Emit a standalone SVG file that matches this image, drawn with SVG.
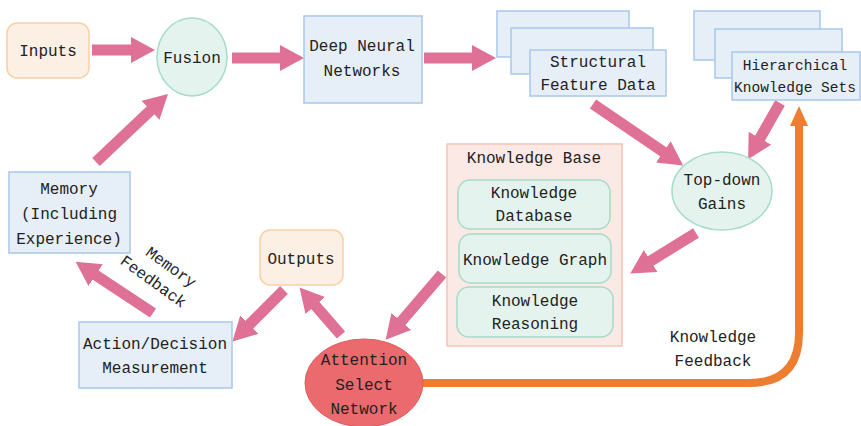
<svg xmlns="http://www.w3.org/2000/svg" width="861" height="426" viewBox="0 0 861 426">
<defs>
<style>
text{font-family:"Liberation Mono","DejaVu Sans Mono",monospace;font-size:16px;fill:#222;text-anchor:middle}
.small{font-size:14.5px}
.blue{fill:#E6EEF8;stroke:#A9C8EA;stroke-width:1.5}
.orange{fill:#FCEFE4;stroke:#F9CFA6;stroke-width:1.5}
.green{fill:#E5F3EE;stroke:#A6DCC8;stroke-width:1.5}
.kb{fill:#FBE9E6;stroke:#F6C4B6;stroke-width:1.5}
.pa{stroke:#DF7096;stroke-width:11;fill:none;marker-end:url(#ph)}
</style>
<marker id="ph" markerUnits="userSpaceOnUse" markerWidth="24" markerHeight="26" viewBox="0 0 24 26" refX="2" refY="13" orient="auto">
<path d="M0,0 L24,13 L0,26 Z" fill="#DF7096"/>
</marker>
<marker id="oh" markerUnits="userSpaceOnUse" markerWidth="20" markerHeight="18" viewBox="0 0 20 18" refX="2" refY="9" orient="auto">
<path d="M0,0 L20,9 L0,18 Z" fill="#ED7D31"/>
</marker>
</defs>
<rect width="861" height="426" fill="#fff"/>
<g id="connectors">
<line class="pa" x1="92" y1="50" x2="133" y2="50"/>
<line class="pa" x1="232" y1="58" x2="282" y2="58"/>
<line class="pa" x1="424" y1="58" x2="474" y2="58"/>
<line class="pa" x1="593" y1="104" x2="665" y2="153"/>
<line class="pa" x1="780" y1="103" x2="759" y2="140"/>
<line class="pa" x1="696" y1="233" x2="649" y2="262"/>
<line class="pa" x1="96" y1="162" x2="152" y2="109"/>
<line class="pa" x1="153" y1="313" x2="94" y2="274"/>
<line class="pa" x1="284" y1="290" x2="248" y2="326"/>
<line class="pa" x1="341" y1="335" x2="314" y2="304"/>
<line class="pa" x1="442" y1="274" x2="400" y2="323"/>
<path d="M422,383 H749 Q799,383 799,333 V124" fill="none" stroke="#ED7D31" stroke-width="8" marker-end="url(#oh)"/>
</g>
<g id="inputs"><rect class="orange" x="7" y="23" width="82" height="55" rx="10"/><text x="48" y="56">Inputs</text></g>
<g id="fusion"><ellipse class="green" cx="192" cy="57" rx="35" ry="39"/><text x="192" y="63">Fusion</text></g>
<g id="dnn"><rect class="blue" x="304" y="16" width="118" height="87"/><text x="362" y="51">Deep Neural</text><text x="362" y="76">Networks</text></g>
<g id="structural">
<rect class="blue" x="497" y="11" width="132" height="46"/>
<rect class="blue" x="511" y="28" width="142" height="46"/>
<rect class="blue" x="530" y="50" width="136" height="46"/>
<text x="598" y="67">Structural</text><text x="598" y="90">Feature Data</text>
</g>
<g id="hierarchical">
<rect class="blue" x="694" y="11" width="126" height="49"/>
<rect class="blue" x="715" y="29" width="127" height="49"/>
<rect class="blue" x="732" y="52" width="128" height="48"/>
<text class="small" x="795" y="70">Hierarchical</text><text class="small" x="795" y="92">Knowledge Sets</text>
</g>
<g id="topdown"><ellipse class="green" cx="722" cy="191" rx="50" ry="39"/><text x="722" y="185">Top-down</text><text x="722" y="209">Gains</text></g>
<g id="knowledge-base">
<rect class="kb" x="447" y="144" width="175" height="202"/>
<text x="534" y="163">Knowledge Base</text>
<rect class="green" x="458" y="180" width="152" height="49" rx="12"/>
<text x="534" y="198">Knowledge</text><text x="534" y="221">Database</text>
<rect class="green" x="459" y="234" width="152" height="49" rx="12"/>
<text x="535" y="265">Knowledge Graph</text>
<rect class="green" x="457" y="287" width="156" height="50" rx="12"/>
<text x="535" y="306">Knowledge</text><text x="535" y="329">Reasoning</text>
</g>
<g id="memory"><rect class="blue" x="9" y="172" width="121" height="81"/><text x="69" y="194">Memory</text><text x="69" y="219">(Including</text><text x="69" y="244">Experience)</text></g>
<g id="outputs"><rect class="orange" x="260" y="230" width="83" height="55" rx="10"/><text x="301" y="264">Outputs</text></g>
<g id="action"><rect class="blue" x="79" y="322" width="153" height="66"/><text x="155" y="349">Action/Decision</text><text x="155" y="373">Measurement</text></g>
<g id="attention"><ellipse cx="364" cy="383" rx="59" ry="44" fill="#EA6A6D" stroke="#E05C60" stroke-width="1"/><text x="364" y="365">Attention</text><text x="364" y="390">Select</text><text x="364" y="414">Network</text></g>
<g id="memory-feedback-label" transform="translate(163,275) rotate(36)"><text x="2" y="-6">Memory</text><text x="-4" y="16">Feedback</text></g>
<g id="knowledge-feedback-label"><text x="713" y="342">Knowledge</text><text x="713" y="366">Feedback</text></g>
</svg>
